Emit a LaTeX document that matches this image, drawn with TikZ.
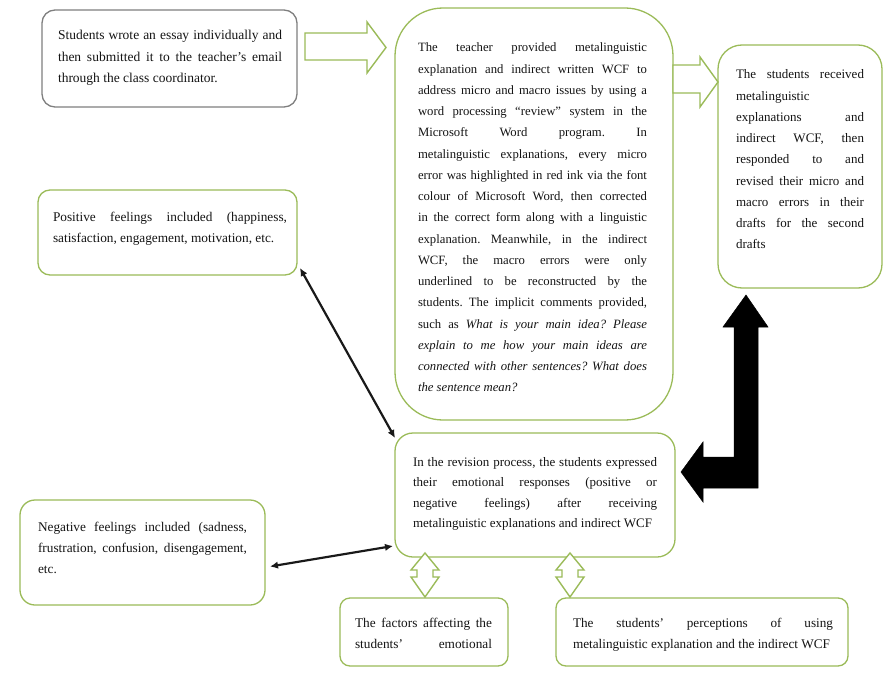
\documentclass[tikz,border=0pt]{standalone}
\usepackage{fontspec}
\setmainfont{Liberation Serif}
\usetikzlibrary{arrows.meta,calc}
\definecolor{gborder}{HTML}{9BBB59}
\definecolor{gyborder}{HTML}{7F7F7F}
\definecolor{txtc}{HTML}{141414}
\frenchspacing
\newcommand{\bxf}[2]{\fontsize{#1}{#2}\selectfont\frenchspacing\hyphenpenalty=10000 \exhyphenpenalty=10000 \tolerance=10000 \emergencystretch=0pt\relax}
\tikzset{
  box/.style={draw=gborder, line width=1.3pt, fill=white, inner sep=0pt, outer sep=0pt, anchor=north west},
  txt/.style={inner sep=0pt, outer sep=0pt, align=justify, anchor=base west, text=txtc},
  hollow/.style={draw=gborder, line width=1.4pt, fill=white, line join=miter},
  solidarrow/.style={fill=black, draw=black, line width=0.5pt, line join=miter},
  dbl/.style={draw=black!90, line width=2.2pt, {Latex[length=8pt,width=7.5pt]}-{Latex[length=8pt,width=7.5pt]}},
}
\begin{document}
\begin{tikzpicture}[x=1pt,y=-1pt]
\useasboundingbox[fill=white] (0,0) rectangle (891,674);

% boxes
\node[box, draw=gyborder, minimum width=255, minimum height=97, rounded corners=13] (b1) at (42,10) {};
\node[box, minimum width=278, minimum height=412, rounded corners=48] (main) at (395,8) {};
\node[box, minimum width=164, minimum height=243, rounded corners=24] (rbox) at (718,45) {};
\node[box, minimum width=259, minimum height=85, rounded corners=12] (pos) at (38,190) {};
\node[box, minimum width=280, minimum height=124, rounded corners=18] (rev) at (395,433) {};
\node[box, minimum width=245, minimum height=105, rounded corners=15] (neg) at (20,500) {};
\node[box, minimum width=168, minimum height=68, rounded corners=10] (fac) at (340,598) {};
\node[box, minimum width=292, minimum height=68, rounded corners=10] (per) at (556,598) {};

% texts
\node[txt, text width=224, font=\bxf{13.5}{21.5}] (t1) at (58,40)
 {Students wrote an essay individually and\linebreak then submitted it to the teacher's email\linebreak through the class coordinator.};

\node[txt, text width=229, font=\bxf{12.7}{21.25}] (tmain) at (418,52)
 {The teacher provided metalinguistic\linebreak
  explanation and indirect written WCF to\linebreak
  address micro and macro issues by using a\linebreak
  word processing “review” system in the\linebreak
  Microsoft Word program. In\linebreak
  metalinguistic explanations, every micro\linebreak
  error was highlighted in red ink via the font\linebreak
  colour of Microsoft Word, then corrected\linebreak
  in the correct form along with a linguistic\linebreak
  explanation. Meanwhile, in the indirect\linebreak
  WCF, the macro errors were only\linebreak
  underlined to be reconstructed by the\linebreak
  students. The implicit comments provided,\linebreak
  such as \textit{What is your main idea? Please}\linebreak
  \textit{explain to me how your main ideas are}\linebreak
  \textit{connected with other sentences? What does}\linebreak
  \textit{the sentence mean?}};

\node[txt, text width=128, font=\bxf{13}{21.25}] (trb) at (736,79)
 {The students received\linebreak
  metalinguistic\newline
  explanations and\linebreak
  indirect WCF, then\linebreak
  responded to and\linebreak
  revised their micro and\linebreak
  macro errors in their\linebreak
  drafts for the second\linebreak
  drafts};

\node[txt, text width=234, font=\bxf{13.3}{21}] (tpos) at (53,221)
 {Positive feelings included (happiness,\linebreak
  satisfaction, engagement, motivation, etc.};

\node[txt, text width=244, font=\bxf{13}{20.5}] (trev) at (413,466)
 {In the revision process, the students expressed\linebreak
  their emotional responses (positive or\linebreak
  negative feelings) after receiving\linebreak
  metalinguistic explanations and indirect WCF};

\node[txt, text width=209, font=\bxf{13.3}{21}] (tneg) at (38,531)
 {Negative feelings included (sadness,\linebreak
  frustration, confusion, disengagement,\linebreak
  etc.};

\node[txt, text width=137, font=\bxf{13.3}{21}] (tfac) at (355,627)
 {The factors affecting the\linebreak
  students'\hfill emotional};

\node[txt, text width=260, font=\bxf{13.2}{21}] (tper) at (573,627)
 {The students' perceptions of using\linebreak
  metalinguistic explanation and the indirect WCF};

% hollow block arrows
\draw[hollow] (305,33) -- (367,33) -- (367,22) -- (386,47.5) -- (367,73) -- (367,60) -- (305,60) -- cycle;
\draw[hollow] (673,65) -- (700,65) -- (700,57) -- (718,82) -- (700,107) -- (700,93) -- (673,93) -- cycle;

\foreach \cx in {425,570}{
  \draw[hollow] (\cx,553) -- (\cx+14,570) -- (\cx+8,570) -- (\cx+8,577) -- (\cx+14,577) -- (\cx,597)
    -- (\cx-14,577) -- (\cx-8,577) -- (\cx-8,570) -- (\cx-14,570) -- cycle;
}

% black elbow arrow
\fill[solidarrow] (746,295) -- (768,327) -- (758,327) -- (758,488) -- (703,488) -- (703,502) -- (681,472)
  -- (703,442) -- (703,457) -- (734,457) -- (734,327) -- (723,327) -- cycle;

% double-headed connectors
\draw[dbl] ($(pos.south east)+(3,-7)$) -- ($(rev.north west)+(0,5)$);
\draw[dbl] ($(neg.east)+(5,14)$) -- ($(rev.south west)+(-2,-11)$);
\end{tikzpicture}
\end{document}
